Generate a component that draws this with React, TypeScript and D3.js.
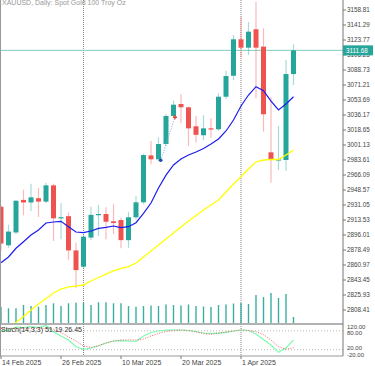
import React from 'react';
import * as d3 from 'd3';

const dates = [
  '2025-02-14','2025-02-17','2025-02-18','2025-02-19','2025-02-20','2025-02-21','2025-02-24','2025-02-25','2025-02-26','2025-02-27','2025-02-28',
  '2025-03-03','2025-03-04','2025-03-05','2025-03-06','2025-03-07','2025-03-10','2025-03-11','2025-03-12','2025-03-13','2025-03-14',
  '2025-03-17','2025-03-18','2025-03-19','2025-03-20','2025-03-21','2025-03-24','2025-03-25','2025-03-26','2025-03-27','2025-03-28','2025-03-31',
  '2025-04-01','2025-04-02','2025-04-03','2025-04-04','2025-04-07','2025-04-08','2025-04-09','2025-04-10'
];
const opens = [2929,2884,2899,2937,2934,2939,2935,2954,2915.5,2918,2878,2859,2893,2919.5,2920.5,2912,2913.5,2890,2916.7,2934.2,2989,2984.4,3002.3,3035,3049,3045.2,3023,3012.5,3020.6,3019.5,3057.5,3082,3124.6,3114.8,3136.3,3116,2992.6,2983.0,2983.6,3084];
const highs = [2931,2908,2937,2949,2956,2951,2957,2956,2933,2922.5,2887,2896,2929,2931,2928.5,2932,2916,2923,2941.5,2990.6,3005.8,3010,3037.3,3053,3060.7,3046,3035,3036,3032.3,3061.5,3088,3129.6,3151,3145,3168.5,3137.4,3056.8,3023.3,3100.4,3118.7];
const lows = [2878,2881,2897,2919,2924,2917,2933,2889,2891,2867,2834,2857,2890,2895,2891,2897,2880.5,2881,2914,2932,2978.6,2982,3000,3033,3026.5,3000,3004,3007,3009.7,3018,3055,3077,3103.6,3106,3055.7,3016.7,2957.1,2971.9,2970.8,3071.2];
const closes = [2886,2900,2936,2934,2940,2935,2954,2915.5,2916.8,2878,2855,2894,2919.5,2920.5,2911.5,2910,2890,2916.7,2934.2,2989.4,2984.4,3002.3,3035,3048.2,3045.2,3020.6,3013,3020.6,3019.5,3057.5,3081.7,3124.6,3114.8,3133.5,3114.8,3037,2983.6,2984.3,3084,3111.68];
const volumes = [160000,147000,147000,180000,170000,163000,180000,197000,170000,197000,203000,203000,180000,207000,207000,197000,197000,170000,163000,170000,175000,170000,185000,180000,175000,185000,170000,165000,160000,180000,185000,195000,200000,190000,280000,260000,300000,250000,290000,60000];
const maFast = [2863.6,2870.3,2880.5,2888.2,2896,2901.8,2910,2911.2,2912,2905.7,2899.5,2898.7,2900.7,2903.8,2905,2906.5,2904.6,2905.7,2910.4,2921.3,2933.4,2950.9,2966,2977.8,2984.8,2989.4,2993,2997,3002.3,3008.1,3017.5,3030.3,3046.7,3059.5,3069.2,3064.5,3052.5,3042,3049,3057.5];
const maSlow = [2773.4,2783.3,2793.8,2800.8,2808.4,2815.4,2821.8,2828.3,2832.9,2835.3,2836.4,2837.6,2842.3,2846.4,2850.4,2854,2856.9,2859.2,2863.3,2870.3,2877.3,2884.3,2891.3,2898.3,2905.3,2912.4,2918.8,2925.2,2931,2936.9,2946.2,2955.6,2964.1,2973.1,2981.3,2983.6,2984.2,2984.2,2989.4,2995.3];
const stochK = [80,82,92,90,93,90,97,77.1,63.5,50.8,29.5,21.3,25.4,31.7,41.3,47.6,48.6,47.6,46,63.5,74.6,79.4,81.9,82.5,82.5,81,77.8,73,72,72,75,79.4,82.5,81,70,52.4,35,11.7,25.4,51.19];
const stochD = [88,88,88,88,88,88,88,85,74.6,60.3,47.6,31.7,27,33.3,41.3,47.6,50.8,50.8,50.8,54,63.5,71.4,77.8,81,82.5,81,76.2,71.4,68.9,73,76.2,79.4,82.5,81,77,68,50.8,29.5,21.3,26.45];
const priceTicks = ['2808.41','2825.93','2843.45','2860.97','2878.49','2896.01','2913.53','2931.05','2948.57','2966.09','2983.61','3001.13','3018.65','3036.17','3053.69','3071.21','3088.73','3106.25','3123.77','3141.29','3158.81'];
const xLabelIdx = [0, 8, 16, 24, 32];
const xLabels = ['14 Feb 2025', '26 Feb 2025', '10 Mar 2025', '20 Mar 2025', '1 Apr 2025'];
const separatorIdx = [11, 32];
const stochLabels = ['120.00', '80.00', '20.00', '-20.00'];
const stochLevels = [80, 20];
const trade = { openIdx: 21.3, openPrice: 2983.3, closeIdx: 23.2, closePrice: 3033.5 };
const lastPrice = 3111.68;
const title = 'XAUUSD, Daily:  Spot Gold 100 Troy Oz';
const stochTitle = 'Stoch(14,3,3) 51.19 26.45';

const BULL = '#26a69a';
const BEAR = '#ef5350';
const FONT = '"Liberation Sans", Arial, sans-serif';

export default function App() {
  const W = 375, H = 366;
  const right = 343;
  const mainBottom = 324;
  const stTop = 325, stBottom = 356;
  const x = d3.scaleLinear().domain([0, 39]).range([1, 293.5]);
  const y = d3.scaleLinear().domain([2808.41, 3158.81]).range([310, 10]);
  const yVol = d3.scaleLinear().domain([0, 100000]).range([323, 313]);
  const yS = d3.scaleLinear().domain([0, 100]).range([356, 324.5]);
  const idx = d3.range(dates.length);
  const line = (arr: number[], ys: d3.ScaleLinear<number, number>) =>
    d3.line<number>().x((i) => x(i)).y((i) => ys(arr[i]))(idx) || '';
  const bw = 5;
  const stochPos = [327, 333, 348, 354.5];

  return (
    <svg width={W} height={H} style={{ position: 'absolute', left: 0, top: 0, background: '#fff' }} fontFamily={FONT}>
      <defs>
        <clipPath id="mainClip"><rect x={0} y={0} width={right} height={mainBottom} /></clipPath>
        <clipPath id="stClip"><rect x={0} y={stTop} width={right} height={stBottom - stTop} /></clipPath>
      </defs>
      <rect x={0} y={0} width={W} height={H} fill="#fff" />
      <text x={2} y={4.8} fontSize={7} fill="#999">{title}</text>
      {separatorIdx.map((i) => (
        <line key={'sep' + i} x1={x(i)} x2={x(i)} y1={0} y2={stBottom} stroke="#888" strokeWidth={1} strokeDasharray="1,1" />
      ))}
      <g clipPath="url(#mainClip)">
        {idx.map((i) => (
          <line key={'v' + i} x1={x(i)} x2={x(i)} y1={yVol(0)} y2={yVol(volumes[i])} stroke={BULL} strokeWidth={1.4} opacity={0.9} />
        ))}
        <line x1={0} x2={right} y1={y(lastPrice)} y2={y(lastPrice)} stroke="#7fcdc1" strokeWidth={1} />
        {idx.map((i) => {
          const up = closes[i] >= opens[i];
          const c = up ? BULL : BEAR;
          const top = y(Math.max(opens[i], closes[i]));
          const bot = y(Math.min(opens[i], closes[i]));
          return (
            <g key={'c' + i}>
              <line x1={x(i)} x2={x(i)} y1={y(highs[i])} y2={y(lows[i])} stroke={c} strokeOpacity={0.4} strokeWidth={1.2} />
              <rect x={x(i) - bw / 2} y={top} width={bw} height={Math.max(1.2, bot - top)} fill={c} />
            </g>
          );
        })}
        <path d={line(maSlow, y)} fill="none" stroke="#ffff00" strokeWidth={1.3} />
        <path d={line(maFast, y)} fill="none" stroke="#1c1cf0" strokeWidth={1.2} />
        <line x1={x(trade.openIdx)} y1={y(trade.openPrice)} x2={x(trade.closeIdx)} y2={y(trade.closePrice)} stroke="#7fa8d8" strokeWidth={1} strokeDasharray="1,1.5" />
        <circle cx={x(trade.openIdx)} cy={y(trade.openPrice)} r={1.8} fill="#1e4fb0" />
        <path d={`M${x(trade.closeIdx) - 2},${y(trade.closePrice)}h4M${x(trade.closeIdx)},${y(trade.closePrice) - 2}v4`} stroke="#e8402f" strokeWidth={1.4} />
      </g>
      <g clipPath="url(#stClip)">
        {stochLevels.map((l) => (
          <line key={'lv' + l} x1={0} x2={right} y1={yS(l)} y2={yS(l)} stroke="#bbb" strokeWidth={1} strokeDasharray="1,2" />
        ))}
        <path d={line(stochK, yS)} fill="none" stroke="#7dfcb0" strokeWidth={1.2} />
        <path d={line(stochD, yS)} fill="none" stroke="#f06060" strokeWidth={1} strokeDasharray="1,1.5" />
      </g>
      <text x={1} y={332} fontSize={7} fill="#333">{stochTitle}</text>
      <line x1={0.5} x2={0.5} y1={0} y2={stBottom} stroke="#999" strokeWidth={1} />
      <line x1={0} x2={right} y1={mainBottom} y2={mainBottom} stroke="#999" strokeWidth={1.5} />
      <line x1={0} x2={right} y1={stBottom} y2={stBottom} stroke="#999" strokeWidth={1} />
      <line x1={right} x2={right} y1={0} y2={stBottom} stroke="#777" strokeWidth={1} />
      {priceTicks.map((t) => (
        <g key={'pt' + t}>
          <line x1={right} x2={right + 3} y1={y(+t)} y2={y(+t)} stroke="#777" strokeWidth={1} />
          <text x={right + 4} y={y(+t)} dy="0.35em" fontSize={6.3} fill="#444">{t}</text>
        </g>
      ))}
      <rect x={right} y={y(lastPrice) - 5} width={30} height={10} fill={BULL} />
      <text x={right + 3} y={y(lastPrice)} dy="0.35em" fontSize={6.3} fill="#fff">{lastPrice.toFixed(2)}</text>
      {stochLabels.map((t, k) => (
        <text key={'sl' + t} x={right + 4} y={stochPos[k]} dy="0.35em" fontSize={6} fill="#444">{t}</text>
      ))}
      {xLabelIdx.map((i, k) => (
        <g key={'xl' + i}>
          <line x1={x(i)} x2={x(i)} y1={stBottom} y2={stBottom + 3} stroke="#777" />
          <text x={x(i) + 1} y={365} fontSize={7} fill="#444">{xLabels[k]}</text>
        </g>
      ))}
    </svg>
  );
}
